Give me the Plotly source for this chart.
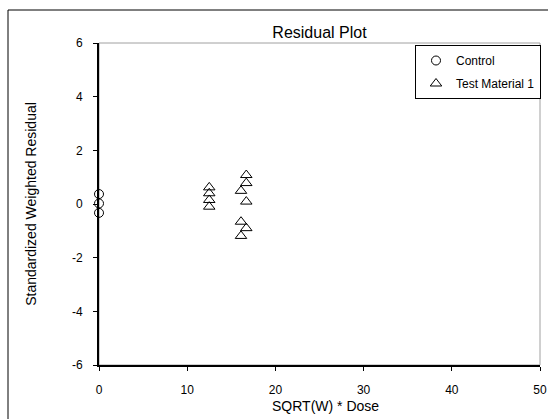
import plotly.graph_objects as go

control_x = [0, 0, 0]
control_y = [0.37, 0.02, -0.33]
test_x = [12.5, 12.5, 12.5, 12.5, 16.7, 16.7, 16.1, 16.7, 16.1, 16.7, 16.1]
test_y = [0.62, 0.4, 0.15, -0.1, 1.08, 0.78, 0.49, 0.09, -0.66, -0.9, -1.19]
x_ticks = [0, 10, 20, 30, 40, 50]
y_ticks = [-6, -4, -2, 0, 2, 4, 6]
y_tick_labels = ["-6", "-4", "-2", "0", "2", "4", "6"]

FONT = "Liberation Sans, Arial, sans-serif"

fig = go.Figure()
fig.add_trace(go.Scatter(
    x=control_x, y=control_y, mode="markers", name="Control",
    legendgroup="a",
    marker=dict(symbol="circle-open", size=9, color="black", line=dict(width=1, color="black")),
    cliponaxis=False,
))
fig.add_trace(go.Scatter(
    x=test_x, y=test_y, mode="markers", name="Test Material 1",
    legendgroup="b",
    marker=dict(symbol="triangle-up-open", size=10, color="black", line=dict(width=1, color="black")),
    cliponaxis=False,
))

W, H = 548, 419
l, r, t, b = 99, 8, 43, 54
pw, ph = W - l - r, H - t - b

def px_x(p):
    return (p - l) / pw

def px_y(p):
    return (H - b - p) / ph

fig.update_layout(
    width=W, height=H,
    margin=dict(l=l, r=r, t=t, b=b, pad=0, autoexpand=False),
    paper_bgcolor="white", plot_bgcolor="white",
    font=dict(family=FONT, size=12, color="black"),
    title=dict(text="Residual Plot", x=0.5, xref="paper", xanchor="center",
               y=1 - 32 / H, yanchor="middle", font=dict(size=16, family=FONT)),
    showlegend=True,
    legend=dict(x=px_x(415), y=px_y(45), xanchor="left", yanchor="top",
                bordercolor="black", borderwidth=1, bgcolor="white",
                font=dict(size=12, family=FONT), tracegroupgap=4,
                traceorder="grouped", itemwidth=30),
    xaxis=dict(range=[0, 50], tickvals=x_ticks, showgrid=False, zeroline=False,
               showline=True, linecolor="black", linewidth=2,
               ticks="outside", ticklen=4, tickcolor="black", tickwidth=1,
               tickfont=dict(size=12), ticklabelstandoff=9),
    yaxis=dict(range=[-6, 6], tickvals=y_ticks, ticktext=y_tick_labels,
               showgrid=False, zeroline=False,
               showline=True, linecolor="black", linewidth=2,
               ticks="outside", ticklen=4, tickcolor="black", tickwidth=1,
               tickfont=dict(size=12), ticklabelstandoff=8,
               title=dict(text="Standardized Weighted Residual", font=dict(size=14), standoff=32)),
    annotations=[
        dict(text="SQRT(W) * Dose", xref="paper", yref="paper",
             x=px_x(325), y=px_y(406), xanchor="center", yanchor="middle",
             showarrow=False, font=dict(size=14, family=FONT)),
    ],
    shapes=[
        dict(type="rect", xref="paper", yref="paper", x0=0, x1=1, y0=0, y1=1,
             line=dict(color="#a0a0a0", width=1), layer="below"),
        dict(type="rect", xref="paper", yref="paper",
             x0=px_x(8), x1=px_x(560), y0=px_y(430), y1=px_y(10),
             line=dict(color="black", width=1), layer="below"),
    ],
)

fig.write_html("out.html", config={"displayModeBar": False},
               post_script="document.body.style.margin='0px';document.body.style.overflow='hidden';")
